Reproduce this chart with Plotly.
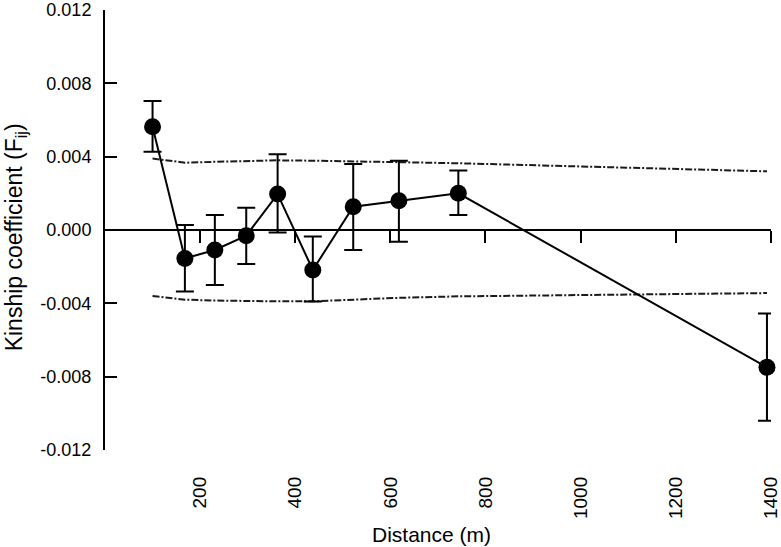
import plotly.graph_objects as go

# Data
distance = [100, 168, 231, 297, 363, 437, 522, 618, 743, 1392]
kinship = [0.00563, -0.00155, -0.00109, -0.00031, 0.00196, -0.00218, 0.00127, 0.00160, 0.00200, -0.00749]
err_plus = [0.00141, 0.00182, 0.00191, 0.00153, 0.00217, 0.00182, 0.00233, 0.00218, 0.00124, 0.00294]
err_minus = [0.00136, 0.00181, 0.00191, 0.00154, 0.00209, 0.00172, 0.00236, 0.00224, 0.00118, 0.00291]
upper_ci = [0.00390, 0.00367, 0.00372, 0.00378, 0.00380, 0.00378, 0.00376, 0.00370, 0.00364, 0.00320]
lower_ci = [-0.00360, -0.00380, -0.00385, -0.00388, -0.00389, -0.00389, -0.00380, -0.00370, -0.00362, -0.00344]

x_ticks = [200, 400, 600, 800, 1000, 1200, 1400]
x_ticktext = ["200", "400", "600", "800", "1000", "1200", "1400"]
y_ticks = [-0.012, -0.008, -0.004, 0.0, 0.004, 0.008, 0.012]
y_ticktext = ["-0.012", "-0.008", "-0.004", "0.000", "0.004", "0.008", "0.012"]
x_title = "Distance (m)"
y_title = "Kinship coefficient (F<sub>ij</sub>)"

FONT = "Liberation Sans, Arial, sans-serif"
X_RANGE = [0, 1400.5]

fig = go.Figure()

for env in (upper_ci, lower_ci):
    fig.add_trace(go.Scatter(
        x=distance, y=env, mode="lines",
        line=dict(color="#1a1a1a", width=2, dash="7px,2px,2px,2px"),
        hoverinfo="skip", showlegend=False,
    ))

fig.add_trace(go.Scatter(
    x=distance, y=kinship, mode="lines+markers",
    line=dict(color="black", width=2),
    marker=dict(color="black", size=17),
    error_y=dict(type="data", symmetric=False, array=err_plus, arrayminus=err_minus,
                 color="black", thickness=2, width=9),
    cliponaxis=False, showlegend=False,
))

# invisible trace to hold the bottom label axis
fig.add_trace(go.Scatter(x=[0, 1400], y=[0, 0], xaxis="x2", mode="markers",
                         marker=dict(opacity=0), hoverinfo="skip", showlegend=False))

fig.update_layout(
    width=781, height=547,
    margin=dict(l=105, r=10, t=10, b=97),
    paper_bgcolor="white", plot_bgcolor="white",
    font=dict(family=FONT, size=17, color="black"),
    xaxis=dict(
        range=X_RANGE, anchor="free", position=0.5, automargin=False,
        showline=True, linecolor="black", linewidth=2,
        ticks="outside", ticklen=12, tickwidth=2, tickcolor="black",
        tickvals=x_ticks, showticklabels=False,
        showgrid=False, zeroline=False,
    ),
    xaxis2=dict(
        range=X_RANGE, overlaying="x", anchor="y", side="bottom", automargin=False,
        showline=False, ticks="", tickvals=x_ticks, ticktext=x_ticktext,
        tickangle=-90, ticklabelstandoff=22, ticklabeloverflow="allow",
        tickfont=dict(family=FONT, size=19, color="black"),
        showgrid=False, zeroline=False,
    ),
    yaxis=dict(
        range=[-0.012, 0.012], automargin=False,
        showline=True, linecolor="black", linewidth=2,
        ticks="inside", ticklen=12, tickwidth=2, tickcolor="black",
        tickvals=y_ticks, ticktext=y_ticktext, ticklabelstandoff=8,
        tickfont=dict(family=FONT, size=18, color="black"),
        showgrid=False, zeroline=False,
    ),
    annotations=[
        dict(text=x_title, xref="paper", yref="paper", x=0.4895, y=-0.191,
             xanchor="center", yanchor="middle", showarrow=False,
             font=dict(family=FONT, size=21, color="black")),
        dict(text=y_title, xref="paper", yref="paper", x=-0.1347, y=0.484,
             xanchor="center", yanchor="middle", textangle=-90, showarrow=False,
             font=dict(family=FONT, size=23, color="black")),
    ],
)

fig.write_html("out.html", config={"displayModeBar": False},
               post_script="document.body.style.margin='0';")
